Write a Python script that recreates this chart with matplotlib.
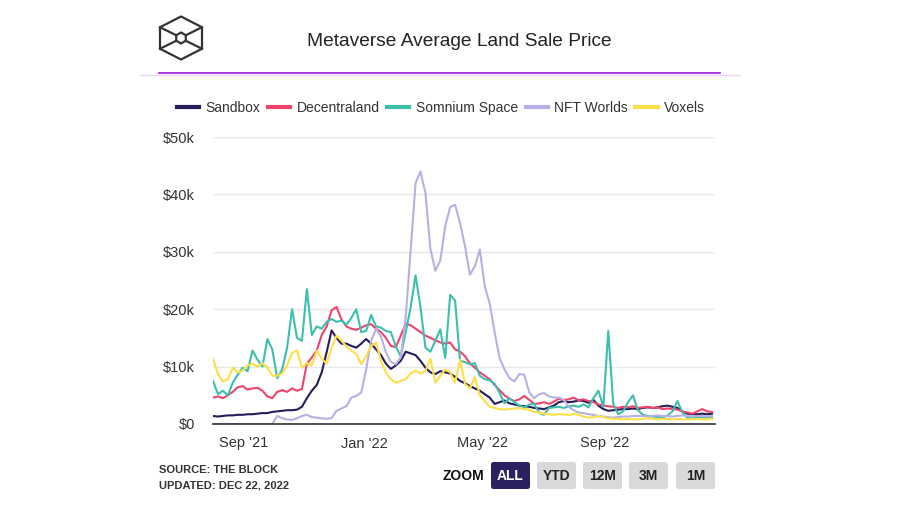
import pandas as pd
import matplotlib.pyplot as plt
from matplotlib.lines import Line2D
from matplotlib.patches import FancyBboxPatch, Polygon

plt.rcParams['font.family'] = ['Liberation Sans', 'DejaVu Sans']

# values in $k, one point every 5 days from 2021-08-01
sandbox = [1.4, 1.3, 1.4, 1.5, 1.5, 1.6, 1.6, 1.7, 1.7, 1.8,
           1.9, 1.9, 2.1, 2.2, 2.3, 2.4, 2.4, 2.5, 3.0, 4.5,
           5.8, 6.8, 9.0, 12.5, 16.3, 15.0, 14.0, 14.0, 13.6, 13.3,
           14.0, 14.8, 14.0, 13.0, 12.0, 10.5, 9.6, 10.2, 11.0, 12.6,
           12.3, 12.0, 11.0, 9.8, 9.0, 8.7, 9.2, 9.0, 8.8, 8.2,
           7.5, 7.1, 6.6, 6.2, 5.8, 5.2, 4.6, 3.5, 3.8, 4.1,
           3.6, 3.4, 3.2, 3.1, 3.0, 2.8, 2.7, 2.6, 2.9, 3.2,
           3.8, 4.0, 3.8, 3.9, 4.1, 4.0, 3.7, 4.2, 3.2, 2.6,
           2.3, 2.4, 2.5, 2.6, 2.6, 2.7, 2.6, 2.8, 2.9, 2.8,
           2.9, 3.1, 3.2, 3.0, 2.8, 2.2, 1.8, 1.7, 1.7, 1.8,
           1.7, 1.8]
decentraland = [4.6, 4.8, 4.5, 5.0, 5.6, 6.4, 6.6, 6.0, 6.2, 6.3,
                5.8, 4.8, 4.5, 5.6, 5.9, 5.6, 6.2, 5.8, 6.1, 10.5,
                11.6, 12.8, 15.5, 17.0, 19.8, 20.4, 18.2, 17.0, 16.6, 16.4,
                16.8, 17.2, 17.4, 16.6, 16.0, 15.0, 13.6, 13.4, 15.4, 17.5,
                17.2, 16.6, 16.0, 15.4, 15.0, 14.6, 14.2, 14.0, 14.2, 13.0,
                12.6, 11.8, 10.6, 9.8, 9.0, 8.4, 7.8, 6.8, 5.9, 5.0,
                4.4, 4.0, 4.3, 4.9, 4.2, 3.5, 3.6, 3.8, 3.5, 3.9,
                4.4, 4.2, 4.3, 4.6, 4.1, 4.3, 4.0, 3.8, 3.4, 3.2,
                3.1, 3.0, 2.8, 3.0, 2.9, 3.1, 2.8, 2.9, 3.0, 2.8,
                2.9, 2.6, 2.7, 2.6, 2.5, 2.2, 2.0, 1.8, 2.2, 2.6,
                2.2, 2.1]
somnium = [7.5, 5.2, 5.8, 5.0, 7.2, 8.6, 9.8, 9.2, 12.8, 11.2,
           10.0, 14.8, 13.0, 8.0, 9.5, 13.3, 20.0, 15.0, 14.5, 23.5,
           15.5, 17.0, 16.6, 17.8, 18.3, 17.8, 18.0, 17.3, 18.5, 20.0,
           16.0, 16.2, 19.0, 17.0, 16.8, 16.2, 16.0, 13.5, 11.8, 16.0,
           20.3, 25.9, 20.3, 13.3, 12.6, 14.5, 16.5, 11.5, 22.5, 21.5,
           11.0, 10.8, 10.4, 10.6, 8.4, 7.8, 7.6, 7.0, 5.4, 3.6,
           4.5, 3.8, 3.2, 2.9, 3.4, 3.5, 2.0, 1.6, 2.8, 2.9,
           3.0, 2.8, 3.1, 3.2, 3.0, 3.4, 2.9, 4.5, 5.8, 3.0,
           16.2, 3.5, 1.7, 2.2, 3.8, 5.0, 2.4, 1.6, 1.4, 1.3,
           1.2, 1.1, 1.5, 2.2, 4.0, 2.0, 1.1, 1.2, 1.1, 1.2,
           1.1, 1.2]
nft_worlds = [0, 0, 0, 0, 0, 0, 0, 0, 0, 0,
              0, 0, 0, 1.4, 1.0, 0.8, 0.7, 1.0, 1.4, 1.6,
              1.2, 1.1, 1.0, 0.9, 1.0, 2.3, 2.7, 3.1, 4.6, 4.9,
              5.5, 9.5, 14.5, 16.6, 15.2, 12.5, 10.8, 10.4, 11.6, 18.6,
              30.2, 42.0, 44.0, 40.2, 30.5, 26.7, 28.5, 34.5, 37.8, 38.2,
              35.0, 31.0, 26.0, 27.5, 30.4, 24.0, 21.0, 16.0, 11.5, 9.5,
              8.0, 7.4, 8.7, 8.6, 5.5, 4.5, 5.2, 5.4, 4.8, 4.6,
              4.6, 4.2, 3.0, 2.4, 2.0, 1.9, 1.7, 1.6, 1.4, 1.3,
              1.2, 1.1, 1.2, 1.3, 1.3, 1.4, 1.4, 1.4, 1.3, 1.4,
              1.5, 1.4, 1.4, 1.3, 1.4, 1.5, 1.4, 1.3, 1.4, 1.4,
              1.3, 1.4]
voxels = [11.4, 8.7, 7.4, 7.8, 9.8, 9.0, 9.3, 10.2, 10.5, 10.0,
          10.6, 9.8, 8.4, 8.4, 8.8, 10.2, 12.4, 12.8, 9.8, 10.6,
          10.2, 12.8, 11.4, 10.5, 13.3, 15.4, 14.5, 13.5, 12.8, 12.2,
          10.4, 11.8, 13.6, 14.2, 11.0, 9.0, 7.8, 7.2, 7.5, 7.8,
          8.8, 9.3, 8.8, 9.2, 11.4, 7.2, 8.4, 9.5, 9.0, 7.2,
          11.2, 7.0, 6.2, 8.2, 5.0, 4.0, 3.0, 2.8, 2.6, 2.5,
          2.6, 2.7, 2.8, 2.6, 2.5, 2.1, 2.0, 1.8, 1.7, 1.6,
          1.7, 1.7, 1.5, 1.8, 1.6, 1.3, 1.1, 1.2, 1.4, 1.2,
          1.0, 0.9, 0.9, 0.8, 0.9, 0.8, 0.8, 0.9, 1.0, 0.9,
          0.8, 0.9, 0.9, 0.8, 0.9, 0.8, 0.8, 0.8, 0.9, 0.8,
          0.8, 0.9]

series_names = ['Sandbox', 'Decentraland', 'Somnium Space', 'NFT Worlds', 'Voxels']
series_colors = ['#261e5a', '#f0446b', '#3dbfad', '#b7b1e3', '#fddf4a']
series_values = [sandbox, decentraland, somnium, nft_worlds, voxels]

dates = pd.date_range('2021-08-01', periods=len(sandbox), freq='5D')
for vals in series_values:
    assert len(vals) == len(dates)

tick_dates = pd.to_datetime(['2021-09-01', '2022-01-01', '2022-05-01', '2022-09-01'])
tick_labels = ["Sep '21", "Jan '22", "May '22", "Sep '22"]
y_ticks = [0, 10, 20, 30, 40, 50]
y_labels = ['$0', '$10k', '$20k', '$30k', '$40k', '$50k']
zoom_buttons = ['ALL', 'YTD', '12M', '3M', '1M']

W, H = 901, 519
fig = plt.figure(figsize=(W / 100, H / 100), dpi=100)

# overlay in pixel coords for the header / footer decorations
oax = fig.add_axes([0, 0, 1, 1], zorder=0)
oax.set_xlim(0, W)
oax.set_ylim(H, 0)
oax.axis('off')

ax = fig.add_axes([213 / W, (H - 424) / H, (715 - 213) / W, (424 - 137) / H], zorder=1)
ax.set_facecolor('none')

for name, col, vals in zip(series_names, series_colors, series_values):
    ax.plot(dates, vals, color=col, lw=1.5, label=name, solid_joinstyle='round')

ax.set_xlim(pd.Timestamp('2021-08-01'), pd.Timestamp('2022-12-22'))
ax.set_ylim(0, 50)
ax.set_yticks(y_ticks)
ax.set_yticklabels(y_labels)
ax.set_xticks(tick_dates)
ax.set_xticklabels(tick_labels)
ax.tick_params(axis='both', length=0, labelsize=10.5, colors='#333333')
ax.tick_params(axis='y', pad=13)
ax.tick_params(axis='x', pad=9)
ax.grid(axis='y', color='#e8e8e8', lw=1)
ax.set_axisbelow(True)
for s in ['top', 'right', 'left']:
    ax.spines[s].set_visible(False)
ax.spines['bottom'].set_color('#333333')
ax.spines['bottom'].set_linewidth(1.2)

# legend
handles = [Line2D([0], [0], color=c, lw=3) for c in series_colors]
fig.legend(handles, series_names, loc='center', bbox_to_anchor=(441 / W, 1 - 108 / H),
           ncol=5, frameon=False, fontsize=10, handlelength=1.6, handletextpad=0.45,
           columnspacing=0.55, labelcolor='#333333')

# title and header lines
oax.text(459, 41, 'Metaverse Average Land Sale Price', ha='center', va='center',
         fontsize=13.8, color='#222222')
oax.plot([140, 740], [75, 75], color='#f0d4f6', lw=1)
oax.plot([159, 720], [73, 73], color='#9b19d9', lw=1.2)

# logo
cx, cy, r = 181, 38, 21.5
outer = [(cx, cy - r), (cx + 21, cy - r / 2), (cx + 21, cy + r / 2),
         (cx, cy + r), (cx - 21, cy + r / 2), (cx - 21, cy - r / 2)]
oax.add_patch(Polygon(outer, closed=True, fill=False, ec='#333333', lw=1.6))
ir = 5.5
inner = [(cx, cy - ir), (cx + ir * 0.87, cy - ir / 2), (cx + ir * 0.87, cy + ir / 2),
         (cx, cy + ir), (cx - ir * 0.87, cy + ir / 2), (cx - ir * 0.87, cy - ir / 2)]
oax.add_patch(Polygon(inner, closed=True, fill=False, ec='#333333', lw=1.6))
for (ox, oy), (ix, iy) in zip([outer[1], outer[2], outer[4], outer[5]],
                              [inner[1], inner[2], inner[4], inner[5]]):
    oax.plot([ox, ix], [oy, iy], color='#333333', lw=1.6)

# footer
oax.text(159, 470, 'SOURCE: THE BLOCK', ha='left', va='center', fontsize=8,
         color='#333333', fontweight='bold')
oax.text(159, 485, 'UPDATED: DEC 22, 2022', ha='left', va='center', fontsize=8,
         color='#333333', fontweight='bold')
oax.text(443, 476, 'ZOOM', ha='left', va='center', fontsize=10, color='#111111',
         fontweight='bold')
btn_x = [491, 537, 583, 629, 676]
for i, (lbl, bx) in enumerate(zip(zoom_buttons, btn_x)):
    fc = '#2b2060' if i == 0 else '#d9d9d9'
    tc = 'white' if i == 0 else '#222222'
    rr = 2.5
    oax.add_patch(FancyBboxPatch((bx + rr, 462 + rr), 39 - 2 * rr, 27 - 2 * rr,
                                 boxstyle=f'round,pad={rr}', fc=fc, ec='none'))
    oax.text(bx + 19.5, 476, lbl, ha='center', va='center', fontsize=10,
             color=tc, fontweight='bold')

fig.savefig('out.png', dpi=100)
